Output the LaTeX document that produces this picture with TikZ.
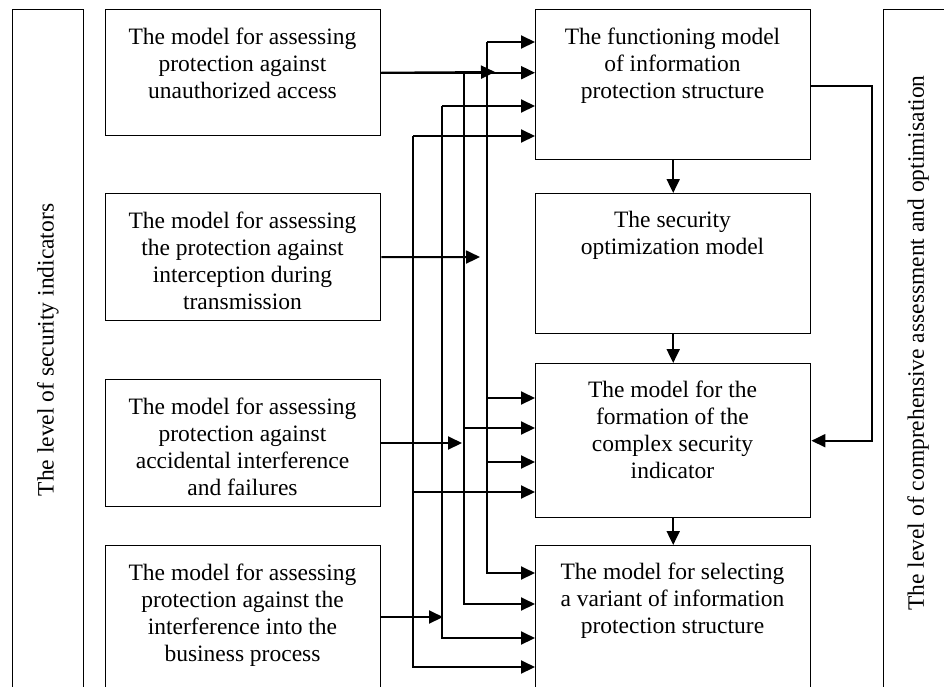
\documentclass[tikz,border=0pt]{standalone}
\usepackage{fontspec}
\setmainfont{Liberation Serif}
\usetikzlibrary{arrows.meta}
\begin{document}
\begin{tikzpicture}[x=1pt,y=-1pt,
  box/.style={draw, line width=1.4pt, inner sep=0pt, anchor=north west, minimum width=275pt},
  level/.style={draw, line width=1.4pt, inner sep=0pt, anchor=north west},
  txt/.style={align=center, font=\fontsize{23.5}{26.8}\selectfont, inner sep=0pt, anchor=north},
  sidetxt/.style={font=\fontsize{23.5}{26.8}\selectfont, inner sep=0pt, rotate=90},
  wire/.style={line width=2pt},
  arr/.style={wire, -{Triangle[length=14pt,width=13pt]}}]
\useasboundingbox (0,0) rectangle (944,686);
\clip (0,0) rectangle (944,686);

% side level frames
\node[level, minimum width=71pt, minimum height=720pt] (lvlL) at (12,9) {};
\node[level, minimum width=120pt, minimum height=720pt] (lvlR) at (883,9) {};
\node[sidetxt] (lvlLt) at (48,350) {The level of security indicators};
\node[sidetxt] (lvlRt) at (918,343) {The level of comprehensive assessment and optimisation};

% left column: indicator models
\node[box, minimum height=126pt] (L1) at (105,9) {};
\node[box, minimum height=127pt] (L2) at (105,193) {};
\node[box, minimum height=127pt] (L3) at (105,379) {};
\node[box, minimum height=150pt] (L4) at (105,545) {};
\node[txt] (L1t) at (242.5,28) {The model for assessing\\protection against\\unauthorized access};
\node[txt] (L2t) at (242.5,212) {The model for assessing\\the protection against\\interception during\\transmission};
\node[txt] (L3t) at (242.5,398) {The model for assessing\\protection against\\accidental interference\\and failures};
\node[txt] (L4t) at (242.5,564) {The model for assessing\\protection against the\\interference into the\\business process};

% right column: assessment and optimisation models
\node[box, minimum height=150pt] (R1) at (535,9) {};
\node[box, minimum height=140pt] (R2) at (535,193) {};
\node[box, minimum height=154pt] (R3) at (535,363) {};
\node[box, minimum height=150pt] (R4) at (535,545) {};
\node[txt] (R1t) at (672.5,28) {The functioning model\\of information\\protection structure};
\node[txt] (R2t) at (672.5,211) {The security\\optimization model};
\node[txt] (R3t) at (672.5,381) {The model for the\\formation of the\\complex security\\indicator};
\node[txt] (R4t) at (672.5,563) {The model for selecting\\a variant of information\\protection structure};

% vertical flow in the right column
\draw[arr] (R1.south) -- (R2.north);
\draw[arr] (R2.south) -- (R3.north);
\draw[arr] (R3.south) -- (R4.north);

% feedback from the functioning model to the complex indicator
\coordinate (fb) at (872,86);
\draw[arr] (R1.east |- fb) -- (fb) |- (R3.east);

% distribution buses
\coordinate (A0) at (487,42);
\coordinate (A1) at (487,398);
\coordinate (A2) at (487,462);
\coordinate (A3) at (487,573);
\coordinate (B0) at (464,72);
\coordinate (B1) at (464,428);
\coordinate (B3) at (464,604);
\coordinate (C0) at (442,106);
\coordinate (C3) at (442,638);
\coordinate (D0) at (413,136);
\coordinate (D1) at (413,492);
\coordinate (D3) at (413,667);

\draw[arr] (A0) -- (A0 -| R1.west);
\draw[arr] (A0) |- (A3 -| R4.west);
\draw[arr] (A1) -- (A1 -| R3.west);
\draw[arr] (A2) -- (A2 -| R3.west);

\draw[arr] (B0) |- (B3 -| R4.west);
\draw[arr] (B1) -- (B1 -| R3.west);

\draw[arr] (C0) -- (C0 -| R1.west);
\draw[arr] (C0) |- (C3 -| R4.west);

\draw[arr] (D0) -- (D0 -| R1.west);
\draw[arr] (D0) |- (D3 -| R4.west);
\draw[arr] (D1) -- (D1 -| R3.west);

% outputs of the indicator models
\coordinate (m1) at (495,72);
\coordinate (t2) at (480,257);
\coordinate (t3) at (462,443);
\coordinate (t4a) at (380,617);
\coordinate (t4) at (443,617);
\draw[arr] (L1.east) -- (L1.east -| R1.west);
\draw[arr] (L1.east) -- (m1);
\draw[arr] (L2.east) -- (t2);
\draw[arr] (L3.east |- t3) -- (t3);
\draw[arr] (t4a) -- (t4);
\end{tikzpicture}
\end{document}
